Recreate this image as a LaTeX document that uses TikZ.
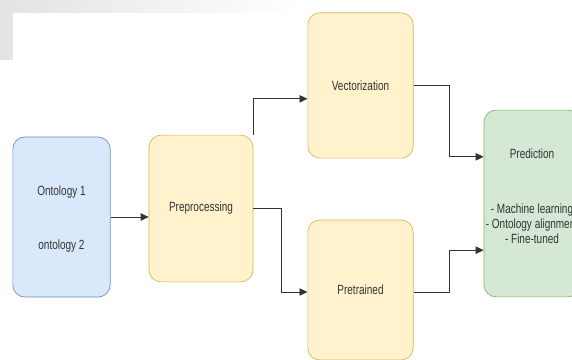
\documentclass[tikz,border=0pt]{standalone}
\usepackage{fontspec}
\setmainfont[FakeStretch=0.75]{Liberation Sans}
\usepackage{tikz}
\usetikzlibrary{arrows.meta}

\definecolor{blueFill}{HTML}{DAE8FC}
\definecolor{blueLine}{HTML}{6C8EBF}
\definecolor{yellowFill}{HTML}{FFF2CC}
\definecolor{yellowLine}{HTML}{D6B656}
\definecolor{greenFill}{HTML}{D5E8D4}
\definecolor{greenLine}{HTML}{82B366}
\definecolor{textGray}{HTML}{333333}

\tikzset{
  box/.style={draw, rounded corners=9pt, line width=0.5pt, text=textGray, align=center, font=\fontsize{10}{12}\selectfont},
  flow/.style={draw=black!80, line width=0.7pt, -{Triangle[length=6pt, width=5.5pt]}}
}

\begin{document}
\begin{tikzpicture}[x=0.75pt, y=-0.75pt]
  \useasboundingbox (0,0) rectangle (572,360);
  % faded scan background
  \fill[left color=gray!22, right color=white] (0,0) rectangle (300,60);
  \fill[white] (13,13) rectangle (572,360);

  \node[box, fill=blueFill, draw=blueLine, minimum width=73pt, minimum height=120pt] (ont) at (61.5, 217.0) {};
  \node[text=textGray, align=center, font=\fontsize{10}{12}\selectfont] (onttxt) at (61.5, 219.0) {Ontology 1\\[28pt]ontology 2};
  \node[box, fill=yellowFill, draw=yellowLine, minimum width=78pt, minimum height=110pt] (pre) at (201.0, 208.5) {Preprocessing};
  \node[box, fill=yellowFill, draw=yellowLine, minimum width=79pt, minimum height=109pt] (vec) at (360.5, 85.5) {Vectorization};
  \node[box, fill=yellowFill, draw=yellowLine, minimum width=79pt, minimum height=105pt] (ptr) at (360.5, 290.0) {Pretrained};
  \node[box, fill=greenFill, draw=greenLine, minimum width=72pt, minimum height=140pt] (pred) at (532.0, 203.5) {};
  \node[text=textGray, align=center, font=\fontsize{10}{11.25}\selectfont] (predtxt) at (532.0, 196.0) {Prediction\\[30pt]- Machine learning\\- Ontology alignment\\- Fine-tuned};

  \draw[flow] (ont.east) -- (ont.east -| pre.west);
  \draw[flow] (pre.north east) |- ([yshift=-10pt]vec.west);
  \draw[flow] (pre.east) -- ++(28,0) |- ([yshift=-1.5pt]ptr.west);
  \draw[flow] (vec.east) -- ++(36,0) |- ([yshift=35pt]pred.west);
  \draw[flow] ([yshift=-1.5pt]ptr.east) -- ++(36,0) |- ([yshift=-35pt]pred.west);
\end{tikzpicture}
\end{document}
